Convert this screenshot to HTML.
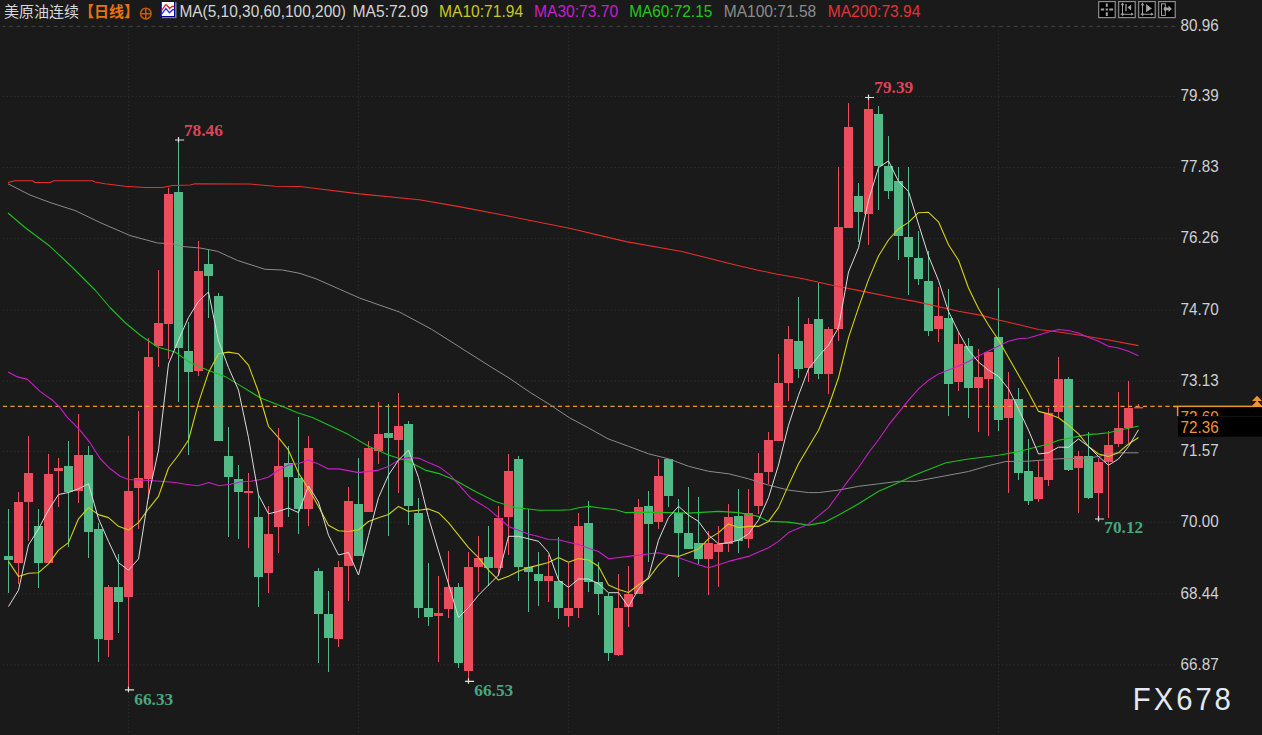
<!DOCTYPE html><html><head><meta charset="utf-8"><title>chart</title><style>html,body{margin:0;padding:0;background:#1a1a1a;}body{width:1262px;height:735px;overflow:hidden}</style></head><body><svg width="1262" height="735" viewBox="0 0 1262 735" style="display:block">
<rect width="1262" height="735" fill="#1a1a1a"/>
<g stroke="#2d2d2d" stroke-width="1.2">
<line x1="2.6" y1="26.4" x2="1176" y2="26.4" stroke="#3c3c3c" stroke-dasharray="3.8 3.7" stroke-dashoffset="1.1"/>
<line x1="2.8" y1="96.4" x2="1177" y2="96.4" stroke-dasharray="1.2 2.6"/>
<line x1="2.8" y1="167.6" x2="1177" y2="167.6" stroke-dasharray="1.2 2.6"/>
<line x1="2.8" y1="238.6" x2="1177" y2="238.6" stroke-dasharray="1.2 2.6"/>
<line x1="2.8" y1="310.1" x2="1177" y2="310.1" stroke-dasharray="1.2 2.6"/>
<line x1="2.8" y1="381.2" x2="1177" y2="381.2" stroke-dasharray="1.2 2.6"/>
<line x1="2.8" y1="451.3" x2="1177" y2="451.3" stroke-dasharray="1.2 2.6"/>
<line x1="2.8" y1="522.2" x2="1177" y2="522.2" stroke-dasharray="1.2 2.6"/>
<line x1="2.8" y1="593.8" x2="1177" y2="593.8" stroke-dasharray="1.2 2.6"/>
<line x1="2.8" y1="664.9" x2="1177" y2="664.9" stroke-dasharray="1.2 2.6"/>
<line x1="128.5" y1="26" x2="128.5" y2="735" stroke-dasharray="1.2 2.55"/>
<line x1="358.5" y1="26" x2="358.5" y2="735" stroke-dasharray="1.2 2.55"/>
<line x1="568.5" y1="26" x2="568.5" y2="735" stroke-dasharray="1.2 2.55"/>
<line x1="778.5" y1="26" x2="778.5" y2="735" stroke-dasharray="1.2 2.55"/>
<line x1="998.5" y1="26" x2="998.5" y2="735" stroke-dasharray="1.2 2.55"/>
<line x1="1177.5" y1="26" x2="1177.5" y2="735" stroke="#1e1e1e" stroke-dasharray="1.2 2.55"/>
</g>
<g shape-rendering="crispEdges">
<rect x="8" y="509.3" width="1" height="83.9" fill="#53b987"/>
<rect x="4" y="555.6" width="9" height="4.0" fill="#53b987"/>
<rect x="18" y="491.8" width="1" height="92.6" fill="#eb4d5c"/>
<rect x="14" y="501.8" width="9" height="61.4" fill="#eb4d5c"/>
<rect x="28" y="435.7" width="1" height="104.9" fill="#eb4d5c"/>
<rect x="24" y="472.8" width="9" height="29.0" fill="#eb4d5c"/>
<rect x="38" y="509.3" width="1" height="78.9" fill="#53b987"/>
<rect x="34" y="525.6" width="9" height="37.6" fill="#53b987"/>
<rect x="48" y="454.0" width="1" height="109.2" fill="#eb4d5c"/>
<rect x="44" y="474.3" width="9" height="88.9" fill="#eb4d5c"/>
<rect x="58" y="458.2" width="1" height="48.6" fill="#eb4d5c"/>
<rect x="54" y="468.0" width="9" height="2.8" fill="#eb4d5c"/>
<rect x="68" y="440.7" width="1" height="106.2" fill="#53b987"/>
<rect x="64" y="465.5" width="9" height="26.3" fill="#53b987"/>
<rect x="78" y="414.4" width="1" height="88.6" fill="#eb4d5c"/>
<rect x="74" y="454.5" width="9" height="36.0" fill="#eb4d5c"/>
<rect x="88" y="445.7" width="1" height="112.4" fill="#53b987"/>
<rect x="84" y="454.5" width="9" height="77.4" fill="#53b987"/>
<rect x="98" y="523.0" width="1" height="138.7" fill="#53b987"/>
<rect x="94" y="529.4" width="9" height="109.9" fill="#53b987"/>
<rect x="108" y="584.8" width="1" height="71.9" fill="#eb4d5c"/>
<rect x="104" y="587.0" width="9" height="53.4" fill="#eb4d5c"/>
<rect x="118" y="554.4" width="1" height="78.8" fill="#53b987"/>
<rect x="114" y="587.0" width="9" height="14.8" fill="#53b987"/>
<rect x="128" y="435.7" width="1" height="254.1" fill="#eb4d5c"/>
<rect x="124" y="490.5" width="9" height="106.3" fill="#eb4d5c"/>
<rect x="138" y="411.0" width="1" height="118.4" fill="#eb4d5c"/>
<rect x="134" y="478.0" width="9" height="10.0" fill="#eb4d5c"/>
<rect x="148" y="338.3" width="1" height="161.0" fill="#eb4d5c"/>
<rect x="144" y="356.8" width="9" height="122.5" fill="#eb4d5c"/>
<rect x="158" y="270.0" width="1" height="96.9" fill="#eb4d5c"/>
<rect x="154" y="323.0" width="9" height="22.6" fill="#eb4d5c"/>
<rect x="168" y="188.0" width="1" height="171.4" fill="#eb4d5c"/>
<rect x="164" y="194.3" width="9" height="130.0" fill="#eb4d5c"/>
<rect x="178" y="139.5" width="1" height="262.5" fill="#53b987"/>
<rect x="174" y="192.0" width="9" height="156.0" fill="#53b987"/>
<rect x="188" y="322.0" width="1" height="132.5" fill="#53b987"/>
<rect x="184" y="350.6" width="9" height="21.3" fill="#53b987"/>
<rect x="198" y="240.8" width="1" height="134.8" fill="#eb4d5c"/>
<rect x="194" y="270.5" width="9" height="100.1" fill="#eb4d5c"/>
<rect x="208" y="250.0" width="1" height="68.0" fill="#53b987"/>
<rect x="204" y="264.3" width="9" height="11.2" fill="#53b987"/>
<rect x="218" y="292.5" width="1" height="148.2" fill="#53b987"/>
<rect x="214" y="295.8" width="9" height="144.9" fill="#53b987"/>
<rect x="228" y="427.2" width="1" height="109.7" fill="#53b987"/>
<rect x="224" y="455.7" width="9" height="21.1" fill="#53b987"/>
<rect x="238" y="464.5" width="1" height="74.9" fill="#53b987"/>
<rect x="234" y="479.3" width="9" height="12.5" fill="#53b987"/>
<rect x="248" y="473.0" width="1" height="75.1" fill="#eb4d5c"/>
<rect x="244" y="490.5" width="9" height="2.8" fill="#eb4d5c"/>
<rect x="258" y="495.0" width="1" height="112.0" fill="#53b987"/>
<rect x="254" y="516.8" width="9" height="60.1" fill="#53b987"/>
<rect x="268" y="505.6" width="1" height="87.6" fill="#eb4d5c"/>
<rect x="264" y="534.4" width="9" height="38.8" fill="#eb4d5c"/>
<rect x="278" y="428.2" width="1" height="124.9" fill="#eb4d5c"/>
<rect x="274" y="466.0" width="9" height="60.9" fill="#eb4d5c"/>
<rect x="288" y="445.7" width="1" height="71.1" fill="#53b987"/>
<rect x="284" y="463.3" width="9" height="13.5" fill="#53b987"/>
<rect x="298" y="417.2" width="1" height="117.2" fill="#53b987"/>
<rect x="294" y="478.0" width="9" height="31.3" fill="#53b987"/>
<rect x="308" y="435.7" width="1" height="89.9" fill="#eb4d5c"/>
<rect x="304" y="448.2" width="9" height="61.1" fill="#eb4d5c"/>
<rect x="318" y="568.0" width="1" height="95.2" fill="#53b987"/>
<rect x="314" y="570.6" width="9" height="43.8" fill="#53b987"/>
<rect x="328" y="590.6" width="1" height="81.4" fill="#53b987"/>
<rect x="324" y="614.4" width="9" height="23.8" fill="#53b987"/>
<rect x="338" y="560.5" width="1" height="86.4" fill="#eb4d5c"/>
<rect x="334" y="566.8" width="9" height="72.6" fill="#eb4d5c"/>
<rect x="348" y="486.9" width="1" height="113.7" fill="#eb4d5c"/>
<rect x="344" y="500.7" width="9" height="64.9" fill="#eb4d5c"/>
<rect x="358" y="458.1" width="1" height="97.4" fill="#53b987"/>
<rect x="354" y="504.4" width="9" height="51.1" fill="#53b987"/>
<rect x="368" y="440.6" width="1" height="71.4" fill="#eb4d5c"/>
<rect x="364" y="448.1" width="9" height="63.9" fill="#eb4d5c"/>
<rect x="378" y="402.0" width="1" height="62.4" fill="#eb4d5c"/>
<rect x="374" y="434.3" width="9" height="16.3" fill="#eb4d5c"/>
<rect x="388" y="404.3" width="1" height="131.4" fill="#53b987"/>
<rect x="384" y="433.1" width="9" height="5.2" fill="#53b987"/>
<rect x="398" y="393.0" width="1" height="100.2" fill="#eb4d5c"/>
<rect x="394" y="425.6" width="9" height="14.0" fill="#eb4d5c"/>
<rect x="408" y="420.6" width="1" height="103.9" fill="#53b987"/>
<rect x="404" y="424.3" width="9" height="81.4" fill="#53b987"/>
<rect x="418" y="498.2" width="1" height="119.9" fill="#53b987"/>
<rect x="414" y="513.2" width="9" height="94.9" fill="#53b987"/>
<rect x="428" y="563.0" width="1" height="62.6" fill="#53b987"/>
<rect x="424" y="608.1" width="9" height="8.8" fill="#53b987"/>
<rect x="438" y="575.6" width="1" height="86.4" fill="#eb4d5c"/>
<rect x="434" y="613.1" width="9" height="2.8" fill="#eb4d5c"/>
<rect x="448" y="550.5" width="1" height="67.6" fill="#eb4d5c"/>
<rect x="444" y="586.8" width="9" height="22.6" fill="#eb4d5c"/>
<rect x="458" y="583.1" width="1" height="85.1" fill="#53b987"/>
<rect x="454" y="586.8" width="9" height="76.4" fill="#53b987"/>
<rect x="468" y="552.0" width="1" height="129.5" fill="#eb4d5c"/>
<rect x="464" y="566.8" width="9" height="103.9" fill="#eb4d5c"/>
<rect x="478" y="535.5" width="1" height="56.3" fill="#eb4d5c"/>
<rect x="474" y="558.0" width="9" height="8.8" fill="#eb4d5c"/>
<rect x="488" y="525.7" width="1" height="59.9" fill="#53b987"/>
<rect x="484" y="556.8" width="9" height="11.2" fill="#53b987"/>
<rect x="498" y="505.7" width="1" height="69.9" fill="#eb4d5c"/>
<rect x="494" y="518.2" width="9" height="49.8" fill="#eb4d5c"/>
<rect x="508" y="454.4" width="1" height="100.6" fill="#eb4d5c"/>
<rect x="504" y="470.6" width="9" height="46.4" fill="#eb4d5c"/>
<rect x="518" y="455.6" width="1" height="125.0" fill="#53b987"/>
<rect x="514" y="459.4" width="9" height="107.4" fill="#53b987"/>
<rect x="528" y="509.4" width="1" height="102.5" fill="#53b987"/>
<rect x="524" y="566.8" width="9" height="5.0" fill="#53b987"/>
<rect x="538" y="551.8" width="1" height="53.8" fill="#53b987"/>
<rect x="534" y="574.3" width="9" height="6.3" fill="#53b987"/>
<rect x="548" y="555.0" width="1" height="46.9" fill="#eb4d5c"/>
<rect x="544" y="575.6" width="9" height="5.0" fill="#eb4d5c"/>
<rect x="558" y="536.8" width="1" height="82.6" fill="#53b987"/>
<rect x="554" y="580.6" width="9" height="27.5" fill="#53b987"/>
<rect x="568" y="562.5" width="1" height="64.4" fill="#eb4d5c"/>
<rect x="564" y="608.3" width="9" height="7.5" fill="#eb4d5c"/>
<rect x="578" y="513.2" width="1" height="105.0" fill="#eb4d5c"/>
<rect x="574" y="525.7" width="9" height="82.2" fill="#eb4d5c"/>
<rect x="588" y="500.7" width="1" height="91.0" fill="#53b987"/>
<rect x="584" y="523.2" width="9" height="58.5" fill="#53b987"/>
<rect x="598" y="561.9" width="1" height="52.8" fill="#53b987"/>
<rect x="594" y="581.7" width="9" height="12.7" fill="#53b987"/>
<rect x="608" y="592.5" width="1" height="68.1" fill="#53b987"/>
<rect x="604" y="595.7" width="9" height="57.3" fill="#53b987"/>
<rect x="618" y="574.3" width="1" height="81.3" fill="#eb4d5c"/>
<rect x="614" y="608.3" width="9" height="46.3" fill="#eb4d5c"/>
<rect x="628" y="565.5" width="1" height="61.4" fill="#eb4d5c"/>
<rect x="624" y="594.4" width="9" height="12.4" fill="#eb4d5c"/>
<rect x="638" y="499.3" width="1" height="94.3" fill="#eb4d5c"/>
<rect x="634" y="506.9" width="9" height="86.7" fill="#eb4d5c"/>
<rect x="648" y="490.6" width="1" height="71.3" fill="#53b987"/>
<rect x="644" y="505.6" width="9" height="18.8" fill="#53b987"/>
<rect x="658" y="459.3" width="1" height="70.1" fill="#eb4d5c"/>
<rect x="654" y="475.6" width="9" height="46.3" fill="#eb4d5c"/>
<rect x="668" y="459.3" width="1" height="47.6" fill="#53b987"/>
<rect x="664" y="459.3" width="9" height="36.3" fill="#53b987"/>
<rect x="678" y="499.3" width="1" height="77.7" fill="#53b987"/>
<rect x="674" y="513.1" width="9" height="20.0" fill="#53b987"/>
<rect x="688" y="486.8" width="1" height="62.6" fill="#53b987"/>
<rect x="684" y="533.1" width="9" height="16.3" fill="#53b987"/>
<rect x="698" y="496.8" width="1" height="67.6" fill="#53b987"/>
<rect x="694" y="543.2" width="9" height="16.2" fill="#53b987"/>
<rect x="708" y="531.4" width="1" height="63.1" fill="#eb4d5c"/>
<rect x="704" y="543.2" width="9" height="16.2" fill="#eb4d5c"/>
<rect x="718" y="525.6" width="1" height="61.4" fill="#eb4d5c"/>
<rect x="714" y="544.4" width="9" height="7.5" fill="#eb4d5c"/>
<rect x="728" y="504.3" width="1" height="47.6" fill="#eb4d5c"/>
<rect x="724" y="516.9" width="9" height="27.5" fill="#eb4d5c"/>
<rect x="738" y="489.3" width="1" height="63.9" fill="#53b987"/>
<rect x="734" y="515.6" width="9" height="25.1" fill="#53b987"/>
<rect x="748" y="489.3" width="1" height="58.9" fill="#eb4d5c"/>
<rect x="744" y="513.1" width="9" height="26.3" fill="#eb4d5c"/>
<rect x="758" y="453.0" width="1" height="61.4" fill="#eb4d5c"/>
<rect x="754" y="473.0" width="9" height="32.6" fill="#eb4d5c"/>
<rect x="768" y="432.0" width="1" height="52.3" fill="#eb4d5c"/>
<rect x="764" y="439.5" width="9" height="32.3" fill="#eb4d5c"/>
<rect x="778" y="354.4" width="1" height="86.6" fill="#eb4d5c"/>
<rect x="774" y="383.2" width="9" height="57.8" fill="#eb4d5c"/>
<rect x="788" y="325.6" width="1" height="75.1" fill="#eb4d5c"/>
<rect x="784" y="339.4" width="9" height="43.8" fill="#eb4d5c"/>
<rect x="798" y="296.8" width="1" height="81.4" fill="#53b987"/>
<rect x="794" y="340.6" width="9" height="28.8" fill="#53b987"/>
<rect x="808" y="318.1" width="1" height="63.8" fill="#eb4d5c"/>
<rect x="804" y="324.3" width="9" height="43.8" fill="#eb4d5c"/>
<rect x="818" y="283.0" width="1" height="96.4" fill="#53b987"/>
<rect x="814" y="319.3" width="9" height="55.1" fill="#53b987"/>
<rect x="828" y="326.8" width="1" height="67.6" fill="#eb4d5c"/>
<rect x="824" y="329.3" width="9" height="45.1" fill="#eb4d5c"/>
<rect x="838" y="166.9" width="1" height="173.7" fill="#eb4d5c"/>
<rect x="834" y="227.0" width="9" height="102.3" fill="#eb4d5c"/>
<rect x="848" y="103.0" width="1" height="125.2" fill="#eb4d5c"/>
<rect x="844" y="126.8" width="9" height="101.4" fill="#eb4d5c"/>
<rect x="858" y="183.2" width="1" height="58.8" fill="#53b987"/>
<rect x="854" y="195.7" width="9" height="16.3" fill="#53b987"/>
<rect x="868" y="97.5" width="1" height="147.1" fill="#eb4d5c"/>
<rect x="864" y="109.3" width="9" height="105.1" fill="#eb4d5c"/>
<rect x="878" y="105.5" width="1" height="104.0" fill="#53b987"/>
<rect x="874" y="114.3" width="9" height="51.3" fill="#53b987"/>
<rect x="888" y="135.6" width="1" height="63.8" fill="#53b987"/>
<rect x="884" y="165.6" width="9" height="25.1" fill="#53b987"/>
<rect x="898" y="166.9" width="1" height="92.8" fill="#53b987"/>
<rect x="894" y="180.7" width="9" height="55.0" fill="#53b987"/>
<rect x="908" y="166.9" width="1" height="127.7" fill="#53b987"/>
<rect x="904" y="236.9" width="9" height="19.8" fill="#53b987"/>
<rect x="918" y="230.9" width="1" height="53.6" fill="#53b987"/>
<rect x="914" y="258.2" width="9" height="21.0" fill="#53b987"/>
<rect x="928" y="250.7" width="1" height="84.9" fill="#53b987"/>
<rect x="924" y="280.6" width="9" height="50.0" fill="#53b987"/>
<rect x="938" y="286.8" width="1" height="55.1" fill="#eb4d5c"/>
<rect x="934" y="315.6" width="9" height="13.7" fill="#eb4d5c"/>
<rect x="948" y="289.3" width="1" height="126.4" fill="#53b987"/>
<rect x="944" y="318.1" width="9" height="66.3" fill="#53b987"/>
<rect x="958" y="333.1" width="1" height="57.6" fill="#eb4d5c"/>
<rect x="954" y="344.4" width="9" height="37.5" fill="#eb4d5c"/>
<rect x="968" y="338.1" width="1" height="80.1" fill="#53b987"/>
<rect x="964" y="345.6" width="9" height="42.6" fill="#53b987"/>
<rect x="978" y="349.4" width="1" height="82.6" fill="#eb4d5c"/>
<rect x="974" y="376.9" width="9" height="11.3" fill="#eb4d5c"/>
<rect x="988" y="351.9" width="1" height="83.8" fill="#eb4d5c"/>
<rect x="984" y="351.9" width="9" height="27.5" fill="#eb4d5c"/>
<rect x="998" y="288.0" width="1" height="142.7" fill="#53b987"/>
<rect x="994" y="336.9" width="9" height="82.6" fill="#53b987"/>
<rect x="1008" y="371.9" width="1" height="121.3" fill="#eb4d5c"/>
<rect x="1004" y="399.4" width="9" height="18.8" fill="#eb4d5c"/>
<rect x="1018" y="388.1" width="1" height="91.4" fill="#53b987"/>
<rect x="1014" y="399.4" width="9" height="73.8" fill="#53b987"/>
<rect x="1028" y="439.2" width="1" height="65.3" fill="#53b987"/>
<rect x="1024" y="470.7" width="9" height="30.1" fill="#53b987"/>
<rect x="1038" y="459.5" width="1" height="42.1" fill="#eb4d5c"/>
<rect x="1034" y="477.0" width="9" height="22.2" fill="#eb4d5c"/>
<rect x="1048" y="408.1" width="1" height="77.7" fill="#eb4d5c"/>
<rect x="1044" y="413.2" width="9" height="66.3" fill="#eb4d5c"/>
<rect x="1058" y="356.8" width="1" height="61.4" fill="#eb4d5c"/>
<rect x="1054" y="379.4" width="9" height="32.5" fill="#eb4d5c"/>
<rect x="1068" y="376.9" width="1" height="93.8" fill="#53b987"/>
<rect x="1064" y="379.4" width="9" height="90.1" fill="#53b987"/>
<rect x="1078" y="450.8" width="1" height="62.4" fill="#eb4d5c"/>
<rect x="1074" y="456.0" width="9" height="12.0" fill="#eb4d5c"/>
<rect x="1088" y="431.9" width="1" height="67.3" fill="#53b987"/>
<rect x="1084" y="456.0" width="9" height="42.1" fill="#53b987"/>
<rect x="1098" y="458.0" width="1" height="60.6" fill="#eb4d5c"/>
<rect x="1094" y="462.0" width="9" height="31.2" fill="#eb4d5c"/>
<rect x="1108" y="430.8" width="1" height="87.5" fill="#eb4d5c"/>
<rect x="1104" y="444.6" width="9" height="17.4" fill="#eb4d5c"/>
<rect x="1118" y="391.9" width="1" height="55.0" fill="#eb4d5c"/>
<rect x="1114" y="428.1" width="9" height="16.3" fill="#eb4d5c"/>
<rect x="1128" y="380.6" width="1" height="61.9" fill="#eb4d5c"/>
<rect x="1124" y="408.1" width="9" height="20.0" fill="#eb4d5c"/>
</g>
<rect x="1134.2" y="407" width="9" height="1.4" fill="#eb4d5c"/><rect x="1138" y="404" width="1" height="3" fill="#eb4d5c"/>
<line x1="-4.6" y1="406.35" x2="1174" y2="406.35" stroke="#ef9530" stroke-width="1.35" stroke-dasharray="4.2 3.3"/>
<polyline points="8.0,182.5 15.0,180.8 32.5,180.8 35.0,182.5 50.0,182.5 54.0,180.8 92.5,180.8 95.0,182.0 105.0,183.8 125.0,186.3 145.0,187.5 162.5,187.5 172.5,185.5 190.0,185.0 195.0,183.8 250.0,184.0 255.0,184.5 275.0,186.3 300.0,186.5 316.0,188.5 359.7,193.9 419.3,199.8 459.1,206.6 506.8,215.7 570.5,228.5 626.2,241.6 681.9,251.5 737.6,265.5 757.0,270.0 777.3,274.2 802.0,278.5 828.7,284.5 864.4,291.6 898.5,298.5 915.1,301.4 958.6,311.3 981.6,315.4 998.6,320.0 1016.0,324.0 1038.6,329.5 1058.7,332.0 1078.7,335.0 1108.7,340.0 1138.5,345.6" fill="none" stroke="#e62e2e" stroke-width="1.1" stroke-linejoin="round"/>
<polyline points="8.0,183.8 30.0,195.0 50.0,202.5 75.0,210.5 100.0,222.5 130.0,235.5 157.5,243.0 172.5,243.8 180.0,246.3 200.0,248.0 217.5,251.3 237.5,260.5 265.0,269.3 282.5,270.0 300.0,273.4 316.0,278.8 339.8,289.3 359.7,298.1 399.4,312.0 431.3,329.1 490.9,366.9 509.0,378.0 530.3,392.5 550.4,405.0 569.2,417.6 587.9,427.6 608.0,438.8 628.5,446.3 648.6,453.8 668.6,458.8 688.6,466.3 708.7,471.3 728.7,473.8 748.5,478.8 768.5,485.1 788.5,490.1 808.6,492.6 818.6,492.6 838.6,490.1 858.6,486.3 878.7,483.8 898.7,481.3 916.0,481.3 946.0,475.7 968.5,471.5 988.6,465.6 1005.8,461.5 1028.5,461.2 1058.5,458.8 1088.4,458.0 1098.6,456.5 1108.5,453.6 1118.5,452.8 1138.5,452.8" fill="none" stroke="#8a8a8a" stroke-width="1.0" stroke-linejoin="round"/>
<polyline points="8.0,213.0 25.0,227.5 50.0,246.3 72.5,267.5 90.0,285.0 95.0,290.0 110.0,307.5 125.0,322.5 140.0,335.0 157.5,347.0 175.0,352.0 190.0,362.6 207.5,370.0 225.0,376.4 237.5,383.9 260.0,397.7 282.5,406.4 297.5,412.7 312.5,417.6 328.5,425.1 348.6,434.6 368.6,446.3 388.6,455.1 408.7,461.4 425.2,470.1 440.2,473.9 455.2,480.2 475.3,491.4 495.3,501.4 515.3,507.7 528.6,509.0 538.6,510.2 558.6,510.2 570.4,509.7 578.7,507.7 588.7,506.4 598.7,507.7 616.0,509.7 625.0,512.6 648.6,512.1 688.6,513.1 718.7,511.4 738.5,512.6 758.5,516.4 768.5,521.4 788.5,522.1 808.6,525.1 825.3,522.1 838.6,515.1 858.6,503.8 878.7,491.3 898.7,482.6 916.0,474.6 946.0,462.7 968.5,459.0 998.6,455.2 1018.6,451.5 1038.6,446.5 1048.7,444.0 1058.7,440.2 1068.7,438.2 1078.5,436.4 1088.5,434.4 1098.5,433.9 1108.5,432.7 1118.5,430.2 1128.5,428.2 1138.5,426.0" fill="none" stroke="#1cc01c" stroke-width="1.1" stroke-linejoin="round"/>
<polyline points="8.0,372.0 17.5,376.9 27.5,379.4 40.0,391.4 52.5,400.2 60.0,407.7 67.5,417.7 80.0,430.2 90.0,442.7 100.0,458.5 110.2,468.8 120.2,476.3 128.5,479.5 140.2,480.0 160.2,481.3 175.3,482.5 185.3,484.3 197.8,485.8 209.0,482.5 219.0,485.8 230.3,484.3 240.4,482.0 250.4,481.3 260.4,479.5 268.6,477.0 278.7,470.0 288.7,465.0 298.7,463.5 308.5,460.1 318.5,463.9 328.5,468.9 338.5,468.9 348.5,470.6 358.5,472.6 368.5,471.4 378.5,470.1 388.5,466.4 398.5,460.1 408.5,457.6 418.5,458.1 428.5,462.6 440.2,467.6 450.2,475.1 460.2,486.4 470.3,497.7 478.5,502.7 488.5,508.9 498.5,517.7 508.5,526.5 518.5,530.2 528.5,534.0 538.5,536.5 548.5,539.5 558.5,539.7 568.5,542.2 578.5,544.5 588.5,548.3 598.5,551.5 608.5,558.7 628.5,556.4 658.6,552.7 678.6,557.7 698.6,564.7 708.7,567.7 728.7,561.4 748.5,556.4 768.5,547.7 778.5,541.4 788.5,532.6 808.6,523.9 828.6,507.6 838.6,493.8 848.6,480.1 858.6,467.5 868.7,452.5 878.7,439.5 888.5,425.2 908.6,400.2 918.6,388.9 928.6,380.2 938.6,373.9 948.5,370.0 958.5,366.0 968.5,361.5 978.5,356.0 988.5,351.0 998.5,346.0 1008.5,341.3 1018.5,338.8 1028.5,338.0 1038.5,335.0 1048.5,332.0 1058.5,329.5 1068.5,330.5 1078.5,333.0 1088.5,337.5 1098.5,341.3 1108.5,346.3 1118.5,348.0 1128.5,351.3 1138.5,355.8" fill="none" stroke="#c81ec8" stroke-width="1.1" stroke-linejoin="round"/>
<polyline points="8.5,561.4 18.5,576.4 28.5,573.2 38.5,572.7 48.5,563.9 58.5,550.1 68.5,542.6 78.5,518.8 88.5,507.6 98.5,514.6 108.5,517.6 118.5,526.3 128.5,530.1 138.5,522.6 148.5,508.8 158.5,496.3 168.5,468.0 178.5,455.0 188.5,440.0 198.5,402.7 208.5,372.6 218.5,353.8 228.5,352.1 238.5,353.8 248.5,365.1 258.5,392.0 268.5,426.5 278.5,437.7 288.5,450.2 298.5,473.0 308.5,488.8 318.5,506.5 328.5,525.2 338.5,530.7 348.5,531.5 358.5,529.7 368.5,521.5 378.5,517.7 388.5,514.5 398.5,506.4 408.5,511.4 418.5,510.2 428.5,508.9 438.5,512.7 448.5,522.7 458.5,535.2 468.5,547.6 478.5,557.6 488.5,570.1 498.5,580.1 508.5,576.3 518.5,571.3 528.5,567.6 538.5,565.1 548.5,562.5 558.5,557.6 568.5,562.2 578.5,558.6 588.5,560.0 598.5,566.3 608.5,585.0 618.5,589.5 628.5,592.5 638.5,585.0 648.5,578.5 658.5,565.2 668.5,555.2 678.5,556.4 688.5,552.7 698.5,548.9 708.5,538.9 718.5,532.6 728.5,523.9 738.5,527.6 748.5,526.4 758.5,526.4 768.5,521.4 778.5,507.6 788.5,485.1 798.5,463.8 808.5,447.0 818.5,430.2 828.5,406.5 838.5,377.7 848.5,337.6 858.5,307.6 868.5,279.6 878.5,256.0 888.5,240.0 898.5,228.7 908.5,222.4 918.5,212.7 928.5,212.3 938.5,221.8 948.5,244.8 958.5,260.2 968.5,288.0 978.5,308.5 988.5,325.0 998.5,340.0 1008.5,357.6 1018.5,375.1 1028.5,392.6 1038.5,411.4 1048.5,413.9 1058.5,417.7 1068.5,425.2 1078.5,433.9 1088.5,446.5 1098.5,454.0 1108.5,456.5 1118.5,452.7 1128.5,444.0 1138.5,437.5" fill="none" stroke="#d2d214" stroke-width="1.1" stroke-linejoin="round"/>
<polyline points="8.5,606.5 18.5,590.2 28.5,545.0 38.5,529.0 48.5,510.0 58.5,494.5 68.5,492.5 78.5,488.8 88.5,483.8 98.5,518.8 108.5,541.4 118.5,562.7 128.5,570.2 138.5,558.9 148.5,496.0 158.5,450.0 168.5,364.0 178.5,340.0 188.5,317.5 198.5,301.3 208.5,292.0 218.5,341.0 228.5,367.6 238.5,390.2 248.5,437.7 258.5,495.0 268.5,513.8 278.5,511.3 288.5,508.0 298.5,512.6 308.5,486.0 318.5,502.0 328.5,535.2 338.5,555.0 348.5,552.5 358.5,575.0 368.5,535.5 378.5,497.7 388.5,475.1 398.5,460.1 408.5,450.1 418.5,477.6 428.5,517.5 438.5,551.0 448.5,583.8 458.5,617.6 468.5,607.6 478.5,595.1 488.5,585.1 498.5,575.1 508.5,536.3 518.5,536.3 528.5,538.8 538.5,541.3 548.5,552.5 558.5,580.1 568.5,587.4 578.5,579.0 588.5,579.0 598.5,583.5 608.5,592.7 618.5,592.7 628.5,606.7 638.5,589.0 648.5,577.0 658.5,540.2 668.5,517.6 678.5,506.3 688.5,515.1 698.5,521.4 708.5,535.1 718.5,543.9 728.5,542.7 738.5,540.2 748.5,533.9 758.5,520.1 768.5,497.6 778.5,465.0 788.5,425.2 798.5,395.2 808.5,368.9 818.5,356.4 828.5,345.1 838.5,327.6 848.5,272.0 858.5,247.8 868.5,200.2 878.5,167.6 888.5,160.9 898.5,181.4 908.5,191.4 918.5,224.0 928.5,256.0 938.5,280.5 948.5,311.5 958.5,332.0 968.5,350.0 978.5,362.0 988.5,370.1 998.5,376.4 1008.5,388.9 1018.5,408.9 1028.5,430.2 1038.5,454.0 1048.5,452.7 1058.5,447.2 1068.5,447.2 1078.5,438.9 1088.5,446.5 1098.5,456.5 1108.5,465.2 1118.5,459.0 1128.5,446.5 1138.5,429.7" fill="none" stroke="#dcdcdc" stroke-width="1.0" stroke-linejoin="round"/>
<path d="M175.0 140H184.1M178.5 137V142.5" stroke="#e0e0e0" stroke-width="1.2" fill="none"/>
<text x="183.9" y="135.8" font-family="'Liberation Serif',serif" font-weight="bold" font-size="17.3" fill="#de4456">78.46</text>
<path d="M125.0 689.8H134.1M128.5 686.8V692.3" stroke="#e0e0e0" stroke-width="1.2" fill="none"/>
<text x="134.3" y="704.9" font-family="'Liberation Serif',serif" font-weight="bold" font-size="17.3" fill="#47a87e">66.33</text>
<path d="M465.0 681.3H474.1M468.5 678.3V683.8" stroke="#e0e0e0" stroke-width="1.2" fill="none"/>
<text x="474.3" y="695.6" font-family="'Liberation Serif',serif" font-weight="bold" font-size="17.3" fill="#47a87e">66.53</text>
<path d="M865.0 97.5H874.1M868.5 94.5V100.0" stroke="#e0e0e0" stroke-width="1.2" fill="none"/>
<text x="874.3" y="93.1" font-family="'Liberation Serif',serif" font-weight="bold" font-size="17.3" fill="#de4456">79.39</text>
<path d="M1095.0 519H1104.1M1098.5 516V521.5" stroke="#e0e0e0" stroke-width="1.2" fill="none"/>
<text x="1104.3" y="533.2" font-family="'Liberation Serif',serif" font-weight="bold" font-size="17.3" fill="#47a87e">70.12</text>
<text transform="translate(1180.6,30.8) scale(0.965,1)" font-family="'Liberation Sans',sans-serif" font-size="15.8" fill="#d0d0d4">80.96</text>
<text transform="translate(1180.6,101.1) scale(0.965,1)" font-family="'Liberation Sans',sans-serif" font-size="15.8" fill="#d0d0d4">79.39</text>
<text transform="translate(1180.6,172.3) scale(0.965,1)" font-family="'Liberation Sans',sans-serif" font-size="15.8" fill="#d0d0d4">77.83</text>
<text transform="translate(1180.6,243.3) scale(0.965,1)" font-family="'Liberation Sans',sans-serif" font-size="15.8" fill="#d0d0d4">76.26</text>
<text transform="translate(1180.6,314.8) scale(0.965,1)" font-family="'Liberation Sans',sans-serif" font-size="15.8" fill="#d0d0d4">74.70</text>
<text transform="translate(1180.6,386.2) scale(0.965,1)" font-family="'Liberation Sans',sans-serif" font-size="15.8" fill="#d0d0d4">73.13</text>
<text transform="translate(1180.6,456.0) scale(0.965,1)" font-family="'Liberation Sans',sans-serif" font-size="15.8" fill="#d0d0d4">71.57</text>
<text transform="translate(1180.6,527.2) scale(0.965,1)" font-family="'Liberation Sans',sans-serif" font-size="15.8" fill="#d0d0d4">70.00</text>
<text transform="translate(1180.6,598.5) scale(0.965,1)" font-family="'Liberation Sans',sans-serif" font-size="15.8" fill="#d0d0d4">68.44</text>
<text transform="translate(1180.6,669.6) scale(0.965,1)" font-family="'Liberation Sans',sans-serif" font-size="15.8" fill="#d0d0d4">66.87</text>
<rect x="1174" y="405.6" width="88" height="1.7" fill="#ef9530"/>
<rect x="1178" y="407.3" width="84" height="9" fill="#000"/>
<rect x="1176.9" y="406" width="1.5" height="10" fill="#ef9530"/>
<svg x="1178" y="407.3" width="84" height="8.8" overflow="hidden"><text transform="translate(2.6,15.5) scale(0.965,1)" font-family="'Liberation Sans',sans-serif" font-size="15.8" fill="#ef9530">72.60</text></svg>
<rect x="1178" y="417" width="84" height="19.7" fill="#000"/>
<text transform="translate(1180.6,432.6) scale(0.965,1)" font-family="'Liberation Sans',sans-serif" font-size="15.8" fill="#ef9530">72.36</text>
<path d="M1252 401L1257 395.7L1262 401ZM1252 406L1257 400.5L1262 406Z" fill="#ef9530"/>
<text transform="translate(1132.8,709.9) scale(0.91,1)" font-family="'Liberation Sans',sans-serif" font-size="32.2" letter-spacing="3.25" fill="#e4e8f4">FX678</text>
<rect x="1098.7" y="1.6" width="16.5" height="16" fill="#000" stroke="#8e8e8e" stroke-width="1.2"/>
<rect x="1118.7" y="1.6" width="16.5" height="16" fill="#000" stroke="#8e8e8e" stroke-width="1.2"/>
<rect x="1138.7" y="1.6" width="16.5" height="16" fill="#000" stroke="#8e8e8e" stroke-width="1.2"/>
<rect x="1158.7" y="1.6" width="16.5" height="16" fill="#000" stroke="#8e8e8e" stroke-width="1.2"/>
<path d="M1106.8 3.4V6.8M1106.8 8.5V10.6M1106.8 12.3V16M1100.8 9.5H1104.2M1105.7 9.5H1107.9M1109.3 9.5H1113.1" stroke="#a4a4a4" stroke-width="2" fill="none"/>
<path d="M1122.5 3.5V15.5M1120.9 14.2H1133.1" stroke="#a4a4a4" stroke-width="1.1" fill="none"/>
<path d="M1122.5 2.6L1124.3 5.2H1120.7ZM1122.5 16.4L1124.3 13.8H1120.7ZM1120.3 14.2L1122.7 12.6V15.8ZM1133.5 14.2L1131.1 12.6V15.8Z" fill="#a4a4a4"/>
<path d="M1126.0 4V11.2" stroke="#a4a4a4" stroke-width="1.3" fill="none"/><path d="M1127.5 7.5L1131.2 4.4V10.6Z" fill="#a4a4a4"/>
<path d="M1142.5 3.5V15.5M1140.9 14.2H1153.1" stroke="#a4a4a4" stroke-width="1.1" fill="none"/>
<path d="M1142.5 2.6L1144.3 5.2H1140.7ZM1142.5 16.4L1144.3 13.8H1140.7ZM1140.3 14.2L1142.7 12.6V15.8ZM1153.5 14.2L1151.1 12.6V15.8Z" fill="#a4a4a4"/>
<path d="M1146.1 4.1L1151.9 8.5L1146.1 12.3Z" fill="#a4a4a4"/>
<rect x="1161.5" y="3.8" width="3.8" height="11.6" fill="none" stroke="#a4a4a4" stroke-width="1"/><path d="M1164.1 8.9H1169.1" stroke="#a4a4a4" stroke-width="2.6"/><circle cx="1165.3" cy="8.9" r="1.8" fill="#a4a4a4"/><path d="M1168.5 5.6L1171.9 8.9L1168.5 12.1Z" fill="#a4a4a4"/>
<g><title>美原油连续【日线】</title>
<text x="4" y="17.3" font-family="'Liberation Sans','Noto Sans CJK SC',sans-serif" font-size="15" fill="#d8d8d8">美原油连续</text>
<text x="79" y="17.3" font-family="'Liberation Sans','Noto Sans CJK SC',sans-serif" font-size="15" font-weight="bold" fill="#e8720c">【日线】</text>
</g>
<g stroke="#c85a00" stroke-width="1.5" fill="none"><circle cx="145.8" cy="13.65" r="5.3"/><path d="M140.5 13.65H151.1M145.8 8.3V19"/></g>
<rect x="162" y="2.2" width="14.6" height="16" fill="#7e7e7e"/><rect x="160.4" y="1" width="14.6" height="16" fill="#00008c"/><rect x="161.8" y="2" width="12.2" height="14" fill="#fff"/>
<path d="M161.6 10.5L165.5 4.9L166.7 4.9L169.5 8.5L172.2 6.3L174.2 6.3" stroke="#f01818" stroke-width="1.3" fill="none"/><path d="M161.6 14.1L165.9 8.6L169.5 12.7L172.6 9.7L174.2 9.7" stroke="#2828e8" stroke-width="1.3" fill="none"/>
<text x="179.4" y="17.1" textLength="166.6" lengthAdjust="spacingAndGlyphs" font-family="'Liberation Sans',sans-serif" font-size="16.3" fill="#d4d4d4">MA(5,10,30,60,100,200)</text>
<text x="352.5" y="17.1" textLength="75.60000000000002" lengthAdjust="spacingAndGlyphs" font-family="'Liberation Sans',sans-serif" font-size="16.3" fill="#d4d4d4">MA5:72.09</text>
<text x="439" y="17.1" textLength="84.10000000000002" lengthAdjust="spacingAndGlyphs" font-family="'Liberation Sans',sans-serif" font-size="16.3" fill="#c8c81e">MA10:71.94</text>
<text x="534" y="17.1" textLength="84.20000000000005" lengthAdjust="spacingAndGlyphs" font-family="'Liberation Sans',sans-serif" font-size="16.3" fill="#c81ec8">MA30:73.70</text>
<text x="629.2" y="17.1" textLength="83.09999999999991" lengthAdjust="spacingAndGlyphs" font-family="'Liberation Sans',sans-serif" font-size="16.3" fill="#1ec81e">MA60:72.15</text>
<text x="723.7" y="17.1" textLength="92.5" lengthAdjust="spacingAndGlyphs" font-family="'Liberation Sans',sans-serif" font-size="16.3" fill="#8c8c8c">MA100:71.58</text>
<text x="827.8" y="17.1" textLength="92.5" lengthAdjust="spacingAndGlyphs" font-family="'Liberation Sans',sans-serif" font-size="16.3" fill="#e63232">MA200:73.94</text>
</svg></body></html>
